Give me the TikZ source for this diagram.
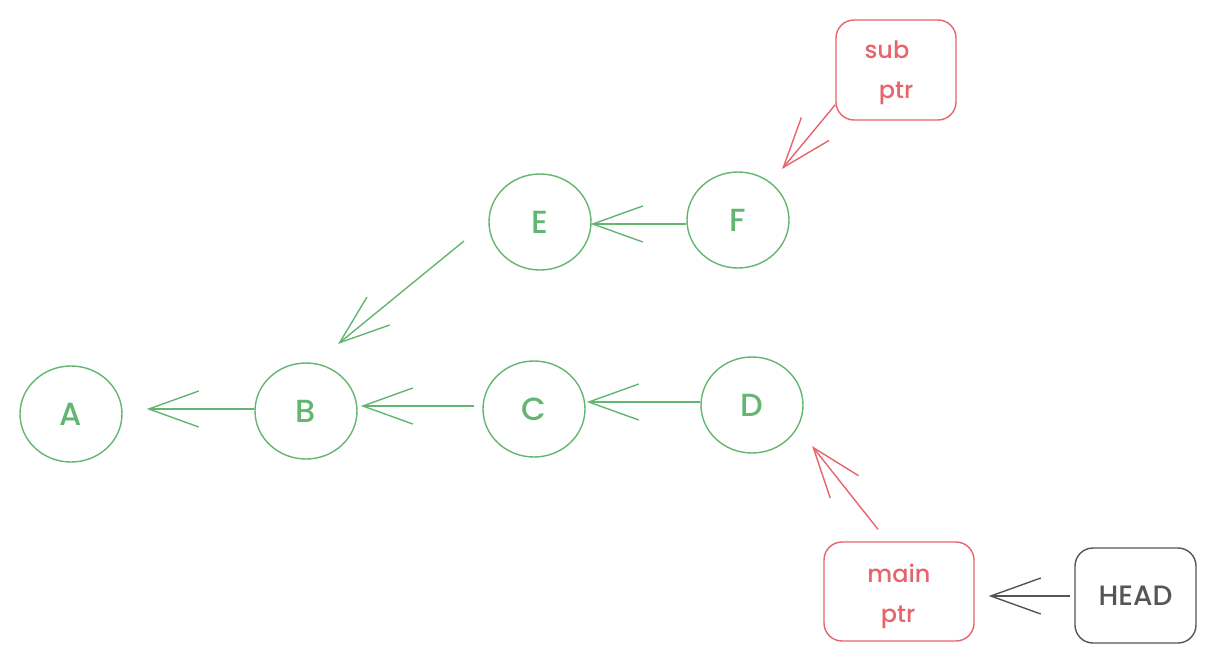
\documentclass[tikz,border=0pt]{standalone}
\usepackage{fontspec}
\setmainfont{Poppins}[BoldFont={Poppins Medium}]
\usetikzlibrary{shapes.geometric,arrows.meta}
\definecolor{cgreen}{HTML}{62B670}
\definecolor{cred}{HTML}{E6646A}
\definecolor{cgray}{HTML}{555555}
\tikzset{
  commit/.style={ellipse, draw=cgreen, line width=1.4pt, minimum width=102pt, minimum height=96pt, inner sep=0pt, text=cgreen, font=\bfseries\fontsize{32}{34}\selectfont},
  ptrbox/.style={draw=cred, rounded corners=18pt, line width=1.4pt, inner sep=0pt},
  ptrtext/.style={text=cred, inner sep=0pt, font=\bfseries\fontsize{24}{26}\selectfont},
  headbox/.style={draw=cgray, rounded corners=18pt, line width=1.4pt, inner sep=0pt, text=cgray, font=\bfseries\fontsize{28}{30}\selectfont},
  link/.style={line width=1.4pt, -{Straight Barb[length=50pt,width=36pt]}},
}
\begin{document}
\begin{tikzpicture}[x=1pt,y=-1pt]
\useasboundingbox (0,0) rectangle (1216,664);
\node[commit] (A) at (71,414) {A};
\node[commit] (B) at (306,411) {B};
\node[commit] (C) at (534,409) {C};
\node[commit] (D) at (752,405) {D};
\node[commit] (E) at (540,222) {E};
\node[commit] (F) at (738,220) {F};
\node[ptrbox, minimum width=120pt, minimum height=100pt] (sub) at (896,70) {};
\node[ptrtext, anchor=base] (subt1) at (887,58) {sub};
\node[ptrtext, anchor=base] (subt2) at (896,98) {ptr};
\node[ptrbox, minimum width=150pt, minimum height=99pt] (main) at (899,591.5) {};
\node[ptrtext, anchor=base] (maint1) at (899,582) {main};
\node[ptrtext, anchor=base] (maint2) at (898,622) {ptr};
\node[headbox, minimum width=121pt, minimum height=95pt] (head) at (1135.5,595.5) {HEAD};
\draw[link, draw=cgreen] (B.west |- 0,409) -- ([xshift=24pt]A.east |- 0,409);
\draw[link, draw=cgreen] ([xshift=-8pt]C.west |- 0,406) -- ([xshift=3pt]B.east |- 0,406);
\draw[link, draw=cgreen] (D.west |- 0,402) -- ([xshift=1pt]C.east |- 0,402);
\draw[link, draw=cgreen] (F.west |- 0,224) -- ([xshift=-1pt]E.east |- 0,224);
\draw[link, draw=cgreen] ([shift={(-76,19)}]E.center) -- ([shift={(32,-67)}]B.center);
\draw[link, draw=cred] ([yshift=16pt]sub.south west) -- ([shift={(44,-51)}]F.center);
\draw[link, draw=cred] ([shift={(-21,-12)}]main.north) -- ([shift={(60,41)}]D.center);
\draw[link, draw=cgray] ([xshift=-4pt]head.west |- 0,596) -- ([xshift=14pt]main.east |- 0,596);
\end{tikzpicture}
\end{document}
